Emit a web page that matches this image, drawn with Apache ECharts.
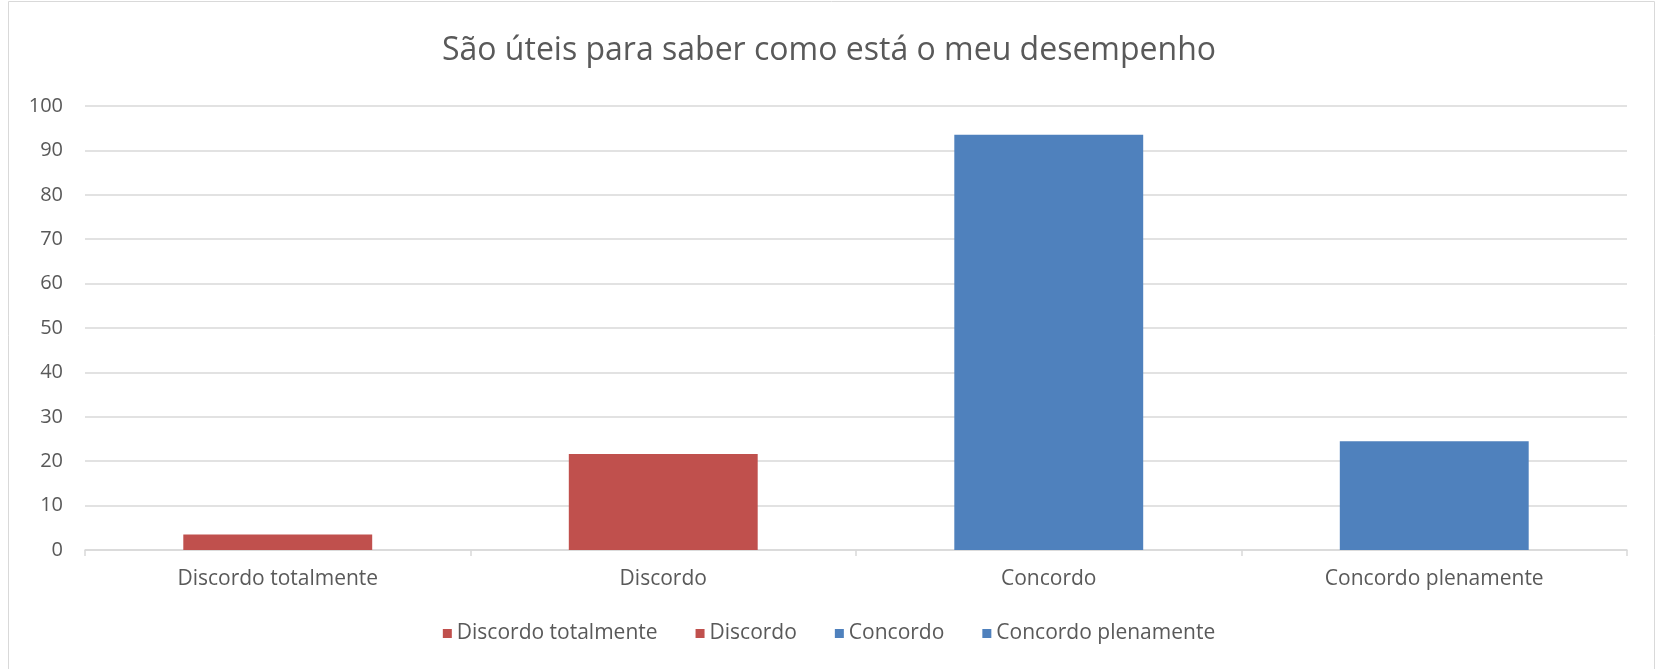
<!DOCTYPE html>
<html>
<head>
<meta charset="utf-8">
<script src="https://cdn.jsdelivr.net/npm/echarts@6/dist/echarts.min.js"></script>
<style>
html, body { margin: 0; padding: 0; background: #fff; }
#chart { width: 1658px; height: 669px; }
</style>
</head>
<body>
<div id="chart"></div>
<script>
// categorias e valores (%)
var categories = ["Discordo totalmente", "Discordo", "Concordo", "Concordo plenamente"];
var seriesNames = ["Discordo totalmente", "Discordo", "Concordo", "Concordo plenamente"];
var seriesValues = [3.5, 21.6, 93.5, 24.5];
var seriesColors = ["#C0504D", "#C0504D", "#4F81BD", "#4F81BD"];
var yTicks = { min: 0, max: 100, interval: 10 };

var textColor = "#595959";
var fontFam = "'Open Sans', 'Noto Sans', sans-serif";

var chart = echarts.init(document.getElementById("chart"));

// cada série só tem valor na sua própria categoria
var series = seriesNames.map(function (name, i) {
    var data = categories.map(function (c, j) { return j === i ? seriesValues[i] : null; });
    return {
        name: name,
        type: "bar",
        stack: "total",
        barWidth: "49%",
        itemStyle: { color: seriesColors[i] },
        data: data
    };
});

var options = {
    animation: false,
    title: {
        text: "São úteis para saber como está o meu desempenho",
        left: "center",
        top: 30,
        textStyle: { fontFamily: fontFam, fontSize: 32, fontWeight: "normal", color: textColor }
    },
    graphic: [{
        type: "rect",
        shape: { x: 8.5, y: 1.5, width: 1646, height: 670 },
        style: { fill: null, stroke: "#d9d9d9", lineWidth: 1 },
        silent: true
    }],
    grid: { left: 85, right: 31, top: 106, bottom: 119, containLabel: false },
    legend: {
        data: seriesNames.map(function (n, i) { return { name: n, itemStyle: { color: seriesColors[i] } }; }),
        bottom: 20,
        left: "center",
        icon: "rect",
        itemWidth: 9,
        itemHeight: 9,
        itemGap: 38,
        textStyle: { fontFamily: fontFam, fontSize: 21, color: textColor }
    },
    xAxis: {
        type: "category",
        data: categories,
        axisLine: { lineStyle: { color: "#d9d9d9", width: 1.5 } },
        axisTick: { show: true, length: 6, lineStyle: { color: "#d9d9d9", width: 1.5 } },
        axisLabel: { fontFamily: fontFam, fontSize: 21, color: textColor, margin: 19 }
    },
    yAxis: {
        type: "value",
        min: yTicks.min,
        max: yTicks.max,
        interval: yTicks.interval,
        axisLine: { show: false },
        axisTick: { show: false },
        axisLabel: { fontFamily: fontFam, fontSize: 20, color: textColor, margin: 22 },
        splitLine: { lineStyle: { color: "#d9d9d9", width: 1.5 } }
    },
    series: series
};

chart.setOption(options);
</script>
</body>
</html>
